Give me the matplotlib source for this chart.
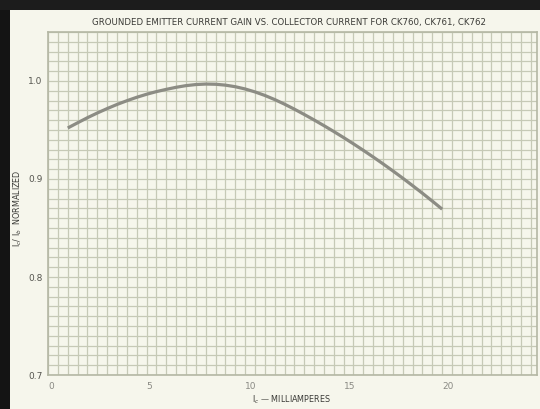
import matplotlib
matplotlib.use("Agg")
import matplotlib.pyplot as plt
from matplotlib.patches import Rectangle
from matplotlib.ticker import MultipleLocator

# Data
current_ma = [1, 1.5, 2, 2.5, 3, 3.5, 4, 4.5, 5, 5.5, 6, 6.5, 7, 7.5, 8, 8.5, 9, 9.5,
              10, 10.5, 11, 11.5, 12, 12.5, 13, 13.5, 14, 14.5, 15, 15.5, 16, 16.5,
              17, 17.5, 18, 18.5, 19, 19.5, 20]
gain_norm = [0.952, 0.9573, 0.9625, 0.9673, 0.9718, 0.976, 0.9798, 0.9833, 0.9864,
             0.9891, 0.9914, 0.9935, 0.9952, 0.9963, 0.9968, 0.9966, 0.9957, 0.9941,
             0.9918, 0.9888, 0.9852, 0.981, 0.9763, 0.9712, 0.9658, 0.9602, 0.9544,
             0.9484, 0.9422, 0.9358, 0.9292, 0.9224, 0.9154, 0.9082, 0.9008, 0.8932,
             0.8854, 0.8774, 0.8692]
x_ticks = [0, 5, 10, 15, 20]
x_tick_labels = ["0", "5", "10", "15", "20"]
y_ticks = [0.7, 0.8, 0.9, 1.0]
y_tick_labels = ["0.7", "0.8", "0.9", "1.0"]
title = "GROUNDED EMITTER CURRENT GAIN VS. COLLECTOR CURRENT FOR CK760, CK761, CK762"

paper = "#f6f6ec"
grid_c = "#c6c9b6"
text_c = "#3a3a36"
tick_c = "#8a8a84"

fig = plt.figure(figsize=(5.40, 4.09), dpi=100)
fig.patch.set_facecolor(paper)
# dark scan borders
fig.patches.append(Rectangle((0, 0), 0.018, 1, transform=fig.transFigure,
                             facecolor="#141414", edgecolor="none", zorder=0))
fig.patches.append(Rectangle((0, 0.975), 1, 0.025, transform=fig.transFigure,
                             facecolor="#1c1c1c", edgecolor="none", zorder=0))

ax = fig.add_axes([0.089, 0.083, 0.905, 0.839])
ax.set_facecolor(paper)
ax.set_xlim(0, 24.8)
ax.set_ylim(0.7, 1.05)

ax.xaxis.set_major_locator(MultipleLocator(5))
ax.xaxis.set_minor_locator(MultipleLocator(0.5))
ax.yaxis.set_major_locator(MultipleLocator(0.1))
ax.yaxis.set_minor_locator(MultipleLocator(0.01))
ax.grid(which="both", color=grid_c, linewidth=0.9)
ax.set_axisbelow(True)
for s in ax.spines.values():
    s.set_color("#b4b7a4")
    s.set_linewidth(1.2)

ax.set_xticks(x_ticks)
ax.set_xticklabels(x_tick_labels)
ax.set_yticks(y_ticks)
ax.set_yticklabels(y_tick_labels)
ax.tick_params(which="both", length=0)
ax.tick_params(axis="x", labelsize=6.5, labelcolor=tick_c, pad=5)
ax.tick_params(axis="y", labelsize=6.5, labelcolor="#55554f", pad=4)
for lab in ax.get_xticklabels():
    lab.set_horizontalalignment("left")

ax.plot(current_ma, gain_norm, color="#8c8c84", linewidth=2.3,
        solid_capstyle="butt", solid_joinstyle="round", zorder=3)

fig.text(0.535, 0.944, title, ha="center", va="center", fontsize=6.2, color=text_c)
fig.text(0.54, 0.022, r"I$_c$ — MILLIAMPERES", ha="center", va="center",
         fontsize=5.8, color=text_c)
fig.text(0.033, 0.49, r"I$_c$/ I$_b$  NORMALIZED", ha="center", va="center",
         fontsize=5.8, color=text_c, rotation=90)

fig.savefig("out.png", dpi=100, facecolor=fig.get_facecolor())
